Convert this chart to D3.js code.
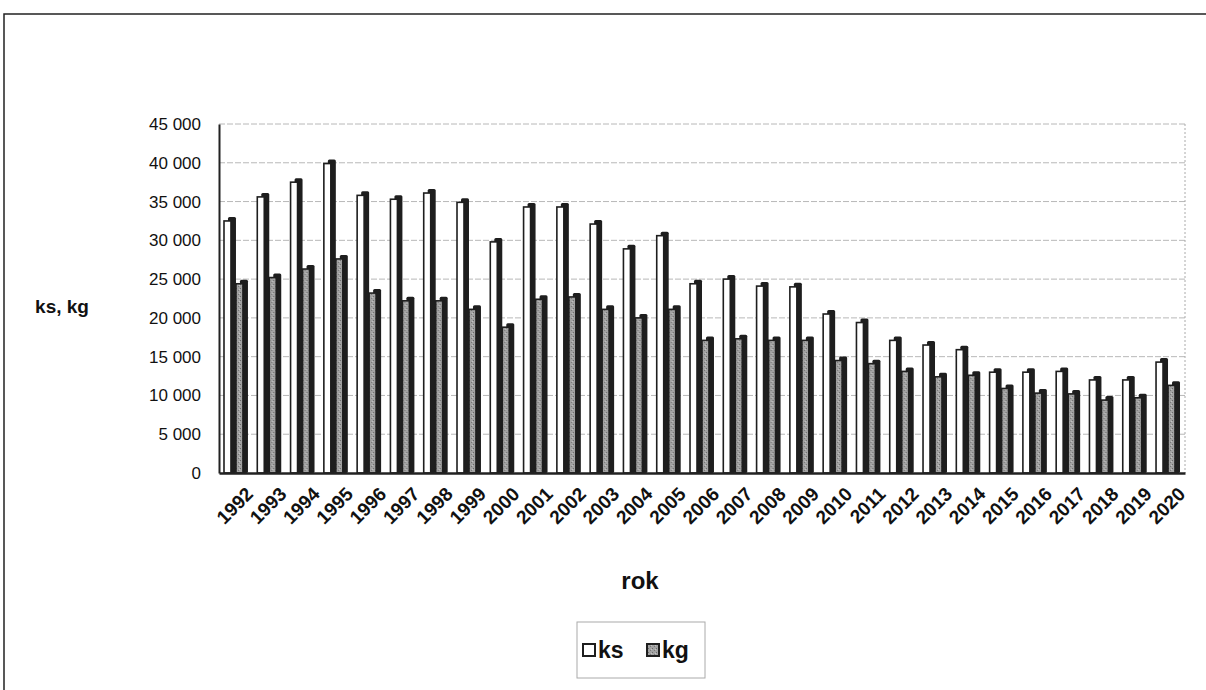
<!DOCTYPE html>
<html><head><meta charset="utf-8">
<script src="https://cdn.jsdelivr.net/npm/d3@7"></script>
<style>
html,body{margin:0;padding:0;background:#fff;}
svg{display:block;font-family:"Liberation Sans",Arial,sans-serif;}
</style></head>
<body>
<svg id="chart" width="1206" height="690"></svg>
<script>
const years = ["1992","1993","1994","1995","1996","1997","1998","1999","2000","2001","2002","2003","2004","2005","2006","2007","2008","2009","2010","2011","2012","2013","2014","2015","2016","2017","2018","2019","2020"];
const ksValues = [32500,35600,37500,39900,35800,35300,36100,34900,29800,34300,34300,32100,28900,30600,24400,25000,24100,24000,20500,19400,17100,16500,15900,13000,13000,13100,12000,12000,14300];
const kgValues = [24400,25200,26300,27600,23200,22200,22200,21100,18800,22400,22700,21100,20000,21100,17100,17300,17100,17100,14500,14100,13100,12400,12600,10900,10300,10200,9400,9700,11300];
const seriesNames = ["ks","kg"];
const yTicks = [0,5000,10000,15000,20000,25000,30000,35000,40000,45000];
const yAxisTitle = "ks, kg";
const xAxisTitle = "rok";

const svg = d3.select("#chart");
const pLeft = 219, pRight = 1185, pTop = 124, pBottom = 473;

// texture pattern for kg bars
const defs = svg.append("defs");
const pat = defs.append("pattern").attr("id","kgTex").attr("patternUnits","userSpaceOnUse")
  .attr("width",4).attr("height",4);
pat.append("rect").attr("width",4).attr("height",4).attr("fill","#a2a2a2");
pat.append("rect").attr("x",0).attr("y",0).attr("width",1).attr("height",1).attr("fill","#6a6a6a");
pat.append("rect").attr("x",2).attr("y",2).attr("width",1).attr("height",1).attr("fill","#767676");
pat.append("rect").attr("x",3).attr("y",1).attr("width",1).attr("height",1).attr("fill","#c4c4c4");

// outer frame
svg.append("rect").attr("x",4).attr("y",14).attr("width",1220).attr("height",700)
  .attr("fill","none").attr("stroke","#222").attr("stroke-width",1.5);

const y = d3.scaleLinear().domain([0,45000]).range([pBottom, pTop]);
const x0 = d3.scaleBand().domain(years).range([pLeft, pRight]).paddingInner(0.28).paddingOuter(0.15);
const x1 = d3.scaleBand().domain(seriesNames).range([0, x0.bandwidth()]).padding(0);

const fmt = d3.formatLocale({decimal:",", thousands:" ", grouping:[3], currency:["",""]}).format(",.0f");

// gridlines
svg.append("g").selectAll("line").data(yTicks.filter(d=>d>0)).join("line")
  .attr("x1",pLeft).attr("x2",pRight).attr("y1",d=>y(d)).attr("y2",d=>y(d))
  .attr("stroke","#b8b8b8").attr("stroke-width",1).attr("stroke-dasharray","6,2");
// right dotted wall edge
svg.append("line").attr("x1",pRight).attr("x2",pRight).attr("y1",pTop).attr("y2",pBottom)
  .attr("stroke","#aaa").attr("stroke-dasharray","2,2");

// y axis
const yAxis = d3.axisLeft(y).tickValues(yTicks).tickFormat(fmt).tickSize(0).tickPadding(18);
const gy = svg.append("g").attr("transform",`translate(${pLeft},0)`).call(yAxis);
gy.select(".domain").attr("stroke","#222").attr("stroke-width",2);
gy.selectAll("text").attr("font-size",17).attr("fill","#111");

// bars
const depth = 5;
const data = years.map((yr,i)=>({year:yr, vals:[{k:"ks",v:ksValues[i]},{k:"kg",v:kgValues[i]}]}));
const groups = svg.append("g").selectAll("g").data(data).join("g")
  .attr("transform",d=>`translate(${x0(d.year)},0)`);
const bw = x1.bandwidth();
groups.selectAll("rect.back").data(d=>d.vals).join("rect").attr("class","back")
  .attr("x",d=>x1(d.k)+depth-1).attr("y",d=>y(d.v)-depth+1)
  .attr("width",bw-depth+1).attr("height",d=>pBottom-y(d.v)+depth-1)
  .attr("rx",1.5).attr("fill","#1e1e1e");
groups.selectAll("rect.front").data(d=>d.vals).join("rect").attr("class","front")
  .attr("x",d=>x1(d.k)).attr("y",d=>y(d.v))
  .attr("width",bw-depth).attr("height",d=>pBottom-y(d.v))
  .attr("fill",d=>d.k==="ks"?"#ffffff":"url(#kgTex)")
  .attr("stroke","#1e1e1e").attr("stroke-width",1.6);

// x axis
const xAxis = d3.axisBottom(x0).tickSize(0).tickPadding(8);
const gx = svg.append("g").attr("transform",`translate(0,${pBottom})`).call(xAxis);
gx.select(".domain").attr("stroke","#222").attr("stroke-width",2.5);
gx.selectAll("text").attr("font-size",19).attr("font-weight","bold").attr("fill","#111")
  .attr("text-anchor","end").attr("dy","0.35em")
  .attr("transform","translate(8,12) rotate(-45)");

// axis titles
svg.append("text").attr("x",62).attr("y",313).attr("text-anchor","middle")
  .attr("font-size",19).attr("font-weight","bold").attr("fill","#111").text(yAxisTitle);
svg.append("text").attr("x",640).attr("y",589).attr("text-anchor","middle")
  .attr("font-size",24).attr("font-weight","bold").attr("fill","#111").text(xAxisTitle);

// legend
const lg = svg.append("g");
lg.append("rect").attr("x",577).attr("y",622).attr("width",128).attr("height",56)
  .attr("fill","#fff").attr("stroke","#aaa").attr("stroke-width",1);
const items = [{k:"ks",x:583},{k:"kg",x:647}];
items.forEach(it=>{
  lg.append("rect").attr("x",it.x).attr("y",644).attr("width",12).attr("height",12)
    .attr("fill",it.k==="ks"?"#fff":"url(#kgTex)").attr("stroke","#1e1e1e").attr("stroke-width",2);
  lg.append("text").attr("x",it.x+15).attr("y",658).attr("font-size",23).attr("font-weight","bold")
    .attr("fill","#111").text(it.k);
});
</script>
</body></html>
